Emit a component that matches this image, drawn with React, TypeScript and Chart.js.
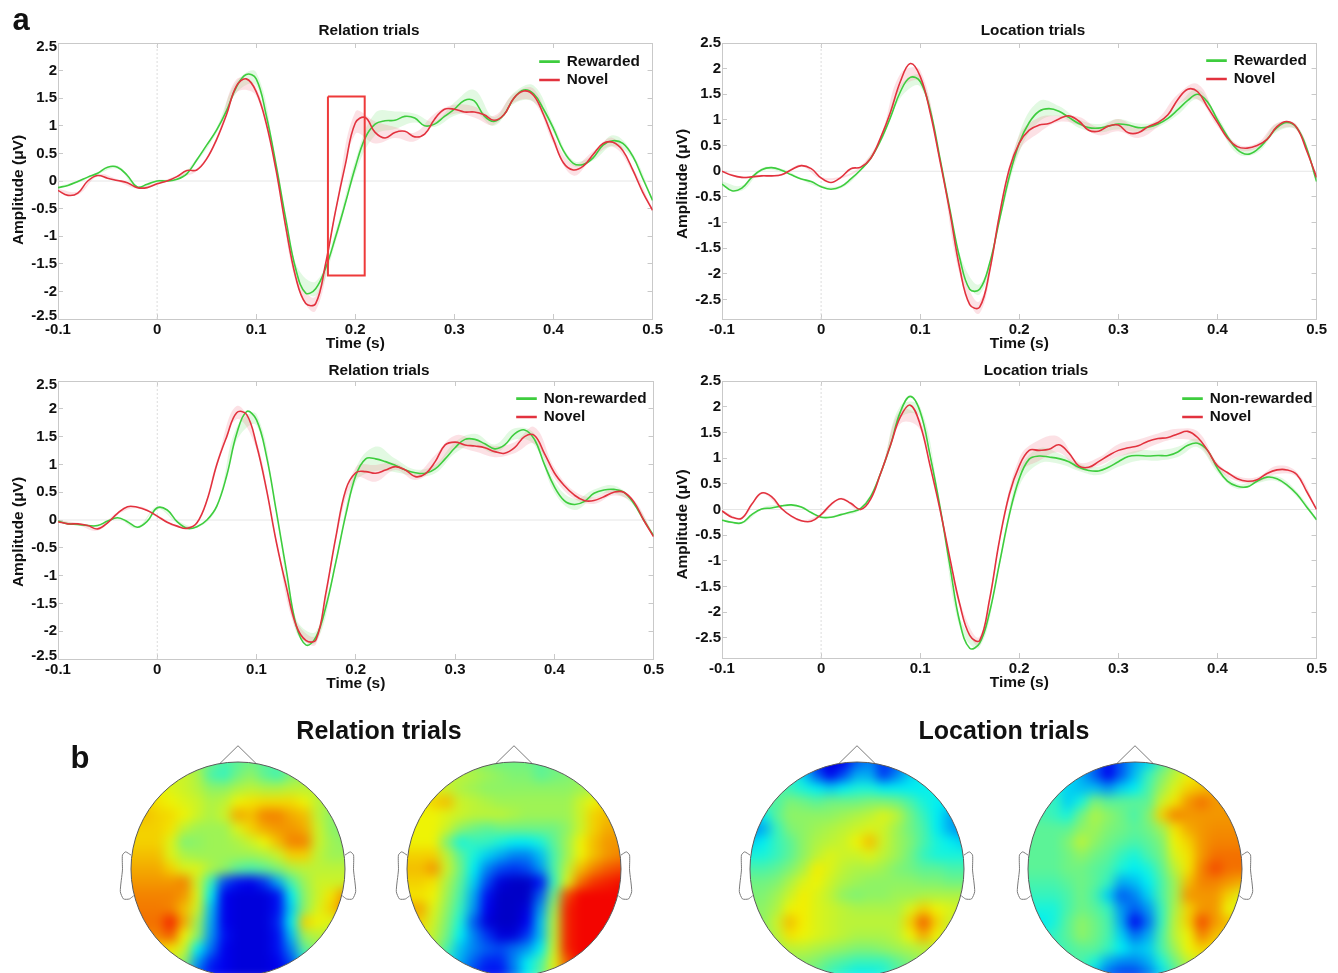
import React, { useEffect, useRef } from "react";
import { Chart, registerables } from "chart.js";

Chart.register(...registerables);

const FONT = '"Liberation Sans", Arial, sans-serif';
const GREEN = "rgb(62,205,62)";
const RED = "rgb(226,50,62)";
const GREEN_BAND = "rgba(110,225,110,0.2)";
const RED_BAND = "rgba(240,120,135,0.22)";

const timeAxis = [-0.1, -0.09, -0.08, -0.07, -0.06, -0.05, -0.04, -0.03, -0.02, -0.01, 0, 0.01, 0.02, 0.03, 0.04, 0.05, 0.06, 0.07, 0.08, 0.09, 0.1, 0.11, 0.12, 0.13, 0.14, 0.15, 0.16, 0.17, 0.18, 0.19, 0.2, 0.21, 0.22, 0.23, 0.24, 0.25, 0.26, 0.27, 0.28, 0.29, 0.3, 0.31, 0.32, 0.33, 0.34, 0.35, 0.36, 0.37, 0.38, 0.39, 0.4, 0.41, 0.42, 0.43, 0.44, 0.45, 0.46, 0.47, 0.48, 0.49, 0.5];
const xTickValues = [-0.1, 0, 0.1, 0.2, 0.3, 0.4, 0.5];
const yTickValues = [-2.5, -2, -1.5, -1, -0.5, 0, 0.5, 1, 1.5, 2, 2.5];

const relRewarded = [-0.12, -0.08, -0.01, 0.07, 0.14, 0.25, 0.25, 0.1, -0.11, -0.06, 0, 0, 0.03, 0.13, 0.38, 0.65, 0.92, 1.27, 1.7, 1.93, 1.85, 1.2, 0.3, -0.7, -1.6, -2.03, -1.95, -1.58, -1.02, -0.4, 0.25, 0.78, 1.03, 1.09, 1.1, 1.17, 1.14, 1, 1.03, 1.17, 1.3, 1.46, 1.45, 1.18, 1.08, 1.2, 1.5, 1.65, 1.58, 1.3, 0.95, 0.55, 0.32, 0.3, 0.42, 0.65, 0.73, 0.68, 0.45, 0.05, -0.35];
const relRewardedNovel = [-0.17, -0.26, -0.22, 0, 0.1, 0.05, 0.01, -0.03, -0.12, -0.12, -0.05, 0, 0.08, 0.19, 0.2, 0.4, 0.75, 1.2, 1.72, 1.85, 1.62, 1.05, 0.2, -0.85, -1.75, -2.22, -2.22, -1.5, -0.55, 0.3, 1.05, 1.15, 0.88, 0.78, 0.88, 0.9, 0.8, 0.85, 1.12, 1.3, 1.3, 1.25, 1.25, 1.2, 1.1, 1.2, 1.5, 1.63, 1.55, 1.2, 0.75, 0.33, 0.2, 0.27, 0.48, 0.68, 0.7, 0.55, 0.2, -0.2, -0.53];
const locRewarded = [-0.25, -0.38, -0.33, -0.12, 0.03, 0.07, 0.02, -0.07, -0.15, -0.2, -0.3, -0.35, -0.3, -0.15, 0.03, 0.25, 0.6, 1.05, 1.55, 1.83, 1.75, 1.2, 0.25, -0.75, -1.7, -2.3, -2.3, -1.8, -0.95, -0.1, 0.55, 0.95, 1.17, 1.22, 1.17, 1.05, 0.93, 0.85, 0.84, 0.88, 0.92, 0.9, 0.85, 0.86, 0.92, 1.03, 1.2, 1.38, 1.5, 1.35, 1, 0.68, 0.42, 0.33, 0.42, 0.62, 0.85, 0.95, 0.85, 0.45, -0.2];
const locRewardedNovel = [0, -0.08, -0.12, -0.11, -0.09, -0.09, -0.07, 0.03, 0.11, 0.05, -0.13, -0.22, -0.12, 0.05, 0.08, 0.25, 0.65, 1.15, 1.75, 2.1, 1.85, 1.15, 0.2, -0.8, -1.9, -2.6, -2.65, -1.95, -0.85, 0.05, 0.55, 0.8, 0.9, 0.93, 1.02, 1.08, 0.98, 0.8, 0.78, 0.88, 0.9, 0.75, 0.75, 0.87, 0.95, 1.1, 1.4, 1.6, 1.55, 1.25, 0.95, 0.65, 0.48, 0.45, 0.5, 0.62, 0.87, 0.97, 0.85, 0.4, -0.12];
const relNonRewarded = [-0.02, -0.07, -0.08, -0.1, -0.1, -0.02, 0.04, -0.03, -0.13, -0.02, 0.22, 0.18, -0.03, -0.15, -0.12, 0, 0.25, 0.8, 1.55, 1.95, 1.8, 1.15, 0.15, -0.9, -1.9, -2.25, -2.1, -1.55, -0.75, 0.1, 0.8, 1.1, 1.1, 1.05, 0.98, 0.9, 0.85, 0.84, 0.92, 1.1, 1.3, 1.45, 1.45, 1.37, 1.28, 1.35, 1.55, 1.62, 1.45, 1, 0.6, 0.35, 0.28, 0.33, 0.48, 0.54, 0.55, 0.5, 0.3, 0, -0.28];
const relNonRewardedNovel = [-0.03, -0.07, -0.07, -0.1, -0.16, -0.05, 0.12, 0.24, 0.23, 0.17, 0.07, -0.04, -0.11, -0.15, -0.05, 0.35, 1, 1.5, 1.93, 1.9, 1.35, 0.55, -0.4, -1.2, -1.9, -2.17, -2.15, -1.3, -0.3, 0.55, 0.85, 0.87, 0.84, 0.9, 0.96, 0.9, 0.78, 0.83, 1.05, 1.35, 1.4, 1.35, 1.33, 1.3, 1.23, 1.2, 1.3, 1.5, 1.52, 1.2, 0.85, 0.62, 0.45, 0.35, 0.35, 0.42, 0.5, 0.5, 0.33, 0, -0.3];
const locNonRewarded = [-0.21, -0.25, -0.26, -0.1, 0.01, 0.03, 0.07, 0.09, 0.05, -0.06, -0.15, -0.15, -0.1, -0.05, 0.02, 0.25, 0.7, 1.25, 1.9, 2.2, 1.9, 1.05, 0.05, -1.1, -2.2, -2.7, -2.6, -2, -1.05, -0.1, 0.6, 0.98, 1.04, 1.02, 0.99, 0.93, 0.82, 0.76, 0.75, 0.82, 0.93, 1.03, 1.05, 1.04, 1.05, 1.05, 1.12, 1.25, 1.29, 1.15, 0.8, 0.55, 0.45, 0.44, 0.55, 0.63, 0.6, 0.48, 0.3, 0.05, -0.2];
const locNonRewardedNovel = [-0.03, -0.15, -0.17, 0.1, 0.32, 0.25, 0.02, -0.13, -0.22, -0.23, -0.1, 0.1, 0.21, 0.12, 0, 0.2, 0.7, 1.25, 1.8, 2.03, 1.65, 0.85, 0, -0.95, -1.85, -2.45, -2.55, -1.75, -0.6, 0.3, 0.85, 1.15, 1.15, 1.17, 1.26, 1.1, 0.85, 0.82, 0.93, 1.05, 1.15, 1.2, 1.24, 1.33, 1.38, 1.4, 1.47, 1.52, 1.4, 1.15, 0.85, 0.72, 0.6, 0.55, 0.58, 0.7, 0.77, 0.77, 0.68, 0.35, 0];

// half-widths of the shaded bands, read every 0.02 s
const semA1 = [0.02, 0.02, 0.02, 0.03, 0.02, 0.02, 0.02, 0.03, 0.05, 0.1, 0.12, 0.03, 0.1, 0.13, 0.1, 0.12, 0.2, 0.16, 0.08, 0.05, 0.12, 0.2, 0.08, 0.1, 0.15, 0.08, 0.05, 0.05, 0.1, 0.05, 0.03];
const semA2 = [0.03, 0.03, 0.02, 0.02, 0.02, 0.02, 0.02, 0.02, 0.04, 0.12, 0.08, 0.03, 0.08, 0.13, 0.05, 0.2, 0.2, 0.1, 0.08, 0.1, 0.08, 0.1, 0.08, 0.08, 0.12, 0.08, 0.1, 0.06, 0.08, 0.05, 0.03];
const semB1 = [0.05, 0.05, 0.03, 0.03, 0.02, 0.02, 0.03, 0.03, 0.05, 0.12, 0.1, 0.03, 0.08, 0.1, 0.05, 0.18, 0.2, 0.1, 0.08, 0.08, 0.1, 0.08, 0.06, 0.1, 0.1, 0.07, 0.08, 0.06, 0.08, 0.05, 0.03];
const semB2 = [0.02, 0.02, 0.02, 0.02, 0.02, 0.02, 0.02, 0.02, 0.04, 0.15, 0.12, 0.03, 0.12, 0.12, 0.05, 0.15, 0.15, 0.06, 0.08, 0.08, 0.12, 0.1, 0.08, 0.1, 0.15, 0.08, 0.05, 0.05, 0.07, 0.05, 0.03];
const semC1 = [0.02, 0.02, 0.02, 0.02, 0.02, 0.02, 0.02, 0.02, 0.04, 0.12, 0.1, 0.03, 0.12, 0.1, 0.06, 0.12, 0.22, 0.12, 0.06, 0.08, 0.1, 0.1, 0.08, 0.1, 0.1, 0.1, 0.1, 0.07, 0.07, 0.04, 0.03];
const semC2 = [0.02, 0.02, 0.03, 0.02, 0.02, 0.02, 0.02, 0.02, 0.05, 0.12, 0.08, 0.03, 0.08, 0.08, 0.05, 0.1, 0.15, 0.06, 0.06, 0.12, 0.12, 0.1, 0.1, 0.1, 0.15, 0.1, 0.07, 0.06, 0.06, 0.04, 0.03];
const semD1 = [0.02, 0.02, 0.02, 0.02, 0.02, 0.02, 0.02, 0.02, 0.04, 0.12, 0.1, 0.03, 0.1, 0.08, 0.06, 0.15, 0.15, 0.1, 0.07, 0.08, 0.1, 0.1, 0.1, 0.1, 0.08, 0.08, 0.05, 0.04, 0.05, 0.05, 0.03];
const semD2 = [0.02, 0.02, 0.02, 0.02, 0.02, 0.02, 0.02, 0.02, 0.04, 0.13, 0.1, 0.03, 0.06, 0.08, 0.05, 0.15, 0.2, 0.15, 0.07, 0.08, 0.12, 0.12, 0.1, 0.1, 0.12, 0.06, 0.05, 0.05, 0.08, 0.05, 0.03];

const highlightX = [0.1724, 0.2095, 0.2095, 0.1724, 0.1724];
const highlightY = [1.53, 1.53, -1.71, -1.71, 1.53];

const map1 = [
  [50, 50, 50, 50, 50, 50, 46, 42, 44, 46, 44, 44, 50, 50, 50, 50, 50],
  [58, 58, 58, 58, 58, 54, 42, 40, 46, 50, 44, 41, 48, 52, 54, 54, 54],
  [62, 62, 62, 60, 58, 55, 50, 50, 54, 56, 54, 54, 56, 56, 56, 54, 54],
  [66, 66, 64, 62, 60, 58, 54, 56, 62, 64, 65, 65, 65, 62, 56, 52, 50],
  [68, 68, 66, 65, 62, 58, 54, 58, 70, 68, 74, 74, 70, 68, 56, 50, 48],
  [66, 66, 66, 64, 56, 52, 52, 52, 60, 66, 70, 72, 72, 70, 58, 50, 48],
  [66, 66, 66, 60, 48, 50, 52, 52, 54, 58, 62, 68, 74, 74, 58, 52, 50],
  [68, 68, 68, 60, 54, 52, 52, 52, 52, 52, 54, 58, 66, 66, 56, 52, 52],
  [70, 70, 70, 66, 60, 60, 54, 50, 44, 42, 44, 48, 54, 56, 56, 56, 56],
  [72, 72, 72, 72, 74, 58, 40, 20, 14, 12, 18, 30, 42, 52, 58, 58, 58],
  [74, 74, 74, 74, 72, 60, 36, 12, 10, 10, 10, 14, 36, 50, 58, 64, 72],
  [75, 75, 75, 74, 68, 58, 32, 12, 10, 10, 10, 14, 34, 50, 60, 66, 74],
  [76, 76, 76, 84, 70, 52, 30, 12, 10, 10, 10, 16, 36, 66, 62, 60, 60],
  [74, 74, 74, 78, 62, 50, 28, 14, 10, 10, 10, 14, 32, 52, 56, 54, 54],
  [66, 66, 66, 64, 58, 36, 24, 12, 10, 10, 10, 14, 26, 44, 50, 50, 50],
  [58, 58, 58, 58, 50, 28, 16, 12, 10, 10, 10, 12, 20, 36, 46, 50, 50],
  [50, 50, 50, 48, 40, 22, 14, 12, 10, 10, 10, 12, 16, 30, 44, 50, 50],
];
const map2 = [
  [52, 52, 52, 52, 52, 50, 48, 46, 46, 46, 44, 46, 46, 48, 50, 52, 52],
  [56, 56, 56, 56, 56, 54, 52, 50, 48, 48, 44, 46, 48, 50, 52, 54, 54],
  [60, 60, 60, 58, 54, 52, 50, 50, 50, 50, 50, 50, 50, 52, 54, 56, 56],
  [62, 62, 66, 68, 58, 56, 54, 52, 52, 52, 52, 52, 52, 58, 62, 66, 66],
  [62, 62, 62, 60, 58, 56, 56, 56, 54, 52, 52, 52, 52, 58, 66, 68, 68],
  [62, 62, 62, 58, 50, 46, 44, 46, 46, 46, 46, 46, 50, 58, 66, 70, 70],
  [62, 62, 62, 48, 38, 40, 40, 38, 36, 36, 38, 44, 52, 62, 68, 72, 72],
  [66, 66, 66, 56, 44, 38, 34, 30, 26, 26, 32, 42, 52, 62, 68, 72, 74],
  [68, 68, 72, 58, 46, 36, 26, 20, 18, 20, 28, 42, 56, 68, 74, 78, 80],
  [66, 66, 64, 54, 44, 34, 20, 10, 8, 8, 14, 40, 60, 76, 82, 84, 86],
  [64, 64, 62, 52, 42, 30, 14, 8, 8, 8, 22, 46, 80, 87, 87, 87, 87],
  [70, 70, 60, 50, 40, 28, 12, 8, 8, 10, 28, 52, 84, 87, 87, 87, 87],
  [68, 66, 58, 48, 38, 22, 10, 8, 8, 12, 32, 55, 84, 87, 87, 87, 87],
  [62, 62, 56, 46, 36, 26, 18, 10, 10, 18, 32, 56, 84, 87, 87, 87, 87],
  [58, 58, 54, 42, 32, 26, 22, 20, 24, 28, 36, 58, 84, 87, 87, 87, 87],
  [54, 54, 50, 38, 30, 22, 16, 16, 26, 36, 42, 60, 78, 87, 87, 87, 87],
  [50, 50, 46, 34, 26, 18, 14, 14, 24, 36, 44, 60, 76, 87, 87, 87, 87],
];
const map3 = [
  [40, 40, 40, 38, 30, 16, 10, 12, 22, 26, 18, 22, 30, 36, 40, 40, 40],
  [42, 42, 42, 40, 34, 22, 12, 20, 30, 30, 18, 26, 34, 38, 40, 42, 42],
  [44, 44, 44, 40, 38, 36, 34, 36, 38, 38, 36, 36, 36, 36, 38, 40, 42],
  [46, 46, 42, 48, 46, 44, 46, 46, 46, 48, 48, 46, 42, 38, 36, 36, 36],
  [34, 36, 44, 50, 50, 50, 50, 52, 54, 56, 60, 56, 46, 40, 36, 30, 26],
  [26, 30, 40, 48, 50, 52, 54, 56, 58, 60, 58, 52, 46, 42, 36, 30, 26],
  [34, 36, 40, 44, 50, 54, 56, 58, 62, 68, 58, 52, 48, 42, 38, 36, 34],
  [38, 38, 40, 44, 50, 56, 60, 58, 58, 60, 56, 52, 46, 40, 38, 38, 38],
  [42, 42, 44, 48, 54, 63, 60, 56, 54, 54, 52, 48, 46, 44, 44, 42, 42],
  [46, 46, 48, 54, 60, 62, 58, 54, 52, 50, 50, 50, 50, 48, 48, 46, 46],
  [48, 48, 52, 58, 63, 60, 56, 50, 48, 50, 50, 52, 52, 54, 54, 54, 54],
  [50, 50, 54, 62, 63, 60, 58, 56, 54, 54, 54, 54, 60, 66, 62, 60, 58],
  [50, 50, 58, 68, 63, 60, 58, 56, 56, 56, 56, 56, 66, 78, 66, 58, 56],
  [50, 50, 56, 64, 62, 60, 58, 56, 54, 54, 54, 56, 62, 70, 62, 56, 54],
  [50, 50, 52, 56, 56, 54, 52, 50, 48, 48, 50, 52, 54, 56, 56, 54, 52],
  [50, 50, 50, 50, 50, 48, 44, 42, 40, 40, 40, 44, 48, 52, 52, 50, 50],
  [50, 50, 50, 50, 48, 44, 40, 38, 36, 36, 38, 42, 46, 50, 50, 50, 50],
];
const map4 = [
  [36, 36, 36, 34, 30, 24, 14, 22, 30, 34, 42, 50, 58, 62, 62, 62, 62],
  [38, 38, 38, 36, 30, 22, 12, 22, 32, 40, 48, 56, 62, 64, 66, 66, 66],
  [40, 40, 38, 34, 32, 32, 28, 34, 36, 42, 52, 60, 66, 68, 70, 70, 70],
  [40, 40, 40, 34, 38, 48, 44, 44, 44, 44, 58, 64, 72, 76, 72, 72, 72],
  [42, 42, 40, 38, 46, 54, 50, 46, 42, 48, 66, 74, 72, 72, 72, 72, 72],
  [44, 44, 44, 44, 50, 52, 48, 46, 44, 46, 52, 64, 70, 72, 73, 73, 73],
  [44, 44, 44, 48, 56, 50, 46, 44, 42, 44, 48, 62, 66, 72, 74, 74, 74],
  [44, 44, 44, 46, 50, 46, 44, 40, 38, 42, 46, 60, 64, 72, 76, 76, 76],
  [44, 44, 44, 46, 46, 44, 42, 38, 36, 38, 44, 56, 64, 74, 80, 76, 76],
  [42, 42, 42, 44, 46, 44, 40, 30, 32, 36, 42, 52, 68, 74, 74, 72, 70],
  [40, 40, 40, 42, 46, 42, 34, 22, 26, 34, 42, 52, 72, 72, 72, 66, 60],
  [38, 38, 38, 42, 46, 44, 40, 28, 22, 28, 40, 54, 66, 72, 72, 62, 60],
  [36, 36, 38, 44, 50, 46, 42, 30, 12, 24, 40, 56, 66, 80, 72, 68, 66],
  [38, 38, 40, 44, 50, 46, 42, 34, 24, 30, 42, 56, 62, 74, 68, 66, 64],
  [40, 40, 40, 42, 44, 44, 40, 36, 32, 34, 42, 52, 62, 66, 64, 62, 62],
  [42, 42, 42, 42, 42, 38, 30, 26, 26, 30, 38, 46, 56, 60, 60, 60, 60],
  [44, 44, 44, 44, 40, 32, 22, 18, 18, 24, 34, 42, 50, 54, 56, 56, 56],
];

const noseX = [-0.17, 0, 0.17];
const noseY = [0.985, 1.152, 0.985];
const earX = [-1.0, -1.05, -1.08, -1.08, -1.1, -1.07, -1.015, -0.975];
const earY = [0.13, 0.16, 0.13, -0.01, -0.21, -0.28, -0.28, -0.25];

type PanelSpec = {
  title: string; first: string; second: string;
  a: number[]; b: number[]; semA: number[]; semB: number[];
  left: number; top: number; w: number; h: number; yMin: number;
  titleX: number; titleY: number; legendX: number; legendY: number;
  yTitleShift: number; insetEnds: boolean; highlight?: boolean;
};

const panels: PanelSpec[] = [
  { title: "Relation trials", first: "Rewarded", second: "Novel", a: relRewarded, b: relRewardedNovel, semA: semA1, semB: semA2, left: 58, top: 43, w: 596, h: 276, yMin: -2.5, titleX: 369, titleY: 31, legendX: 541, legendY: 61, yTitleShift: 9, insetEnds: true, highlight: true },
  { title: "Location trials", first: "Rewarded", second: "Novel", a: locRewarded, b: locRewardedNovel, semA: semB1, semB: semB2, left: 722, top: 43, w: 596, h: 276, yMin: -2.88, titleX: 1033, titleY: 31, legendX: 1208, legendY: 60, yTitleShift: 3, insetEnds: false },
  { title: "Relation trials", first: "Non-rewarded", second: "Novel", a: relNonRewarded, b: relNonRewardedNovel, semA: semC1, semB: semC2, left: 58, top: 381, w: 597, h: 278, yMin: -2.5, titleX: 379, titleY: 371, legendX: 518, legendY: 398, yTitleShift: 12, insetEnds: true },
  { title: "Location trials", first: "Non-rewarded", second: "Novel", a: locNonRewarded, b: locNonRewardedNovel, semA: semD1, semB: semD2, left: 722, top: 381, w: 596, h: 277, yMin: -2.89, titleX: 1036, titleY: 371, legendX: 1184, legendY: 398, yTitleShift: 5, insetEnds: false },
];

const AXIS = "#c9c9c9";
const TICK_FONT = { family: FONT, size: 15, weight: "bold" as const };
const LABEL_FONT = { family: FONT, size: 15.5, weight: "bold" as const };
const TEXT_FONT = { family: FONT, size: 15.3, weight: "bold" as const };
const LEFT_M = 58, TOP_M = 43, RIGHT_M = 16, BOTTOM_M = 34;

function pts(xs: number[], ys: number[]) {
  return xs.map((x, i) => ({ x, y: ys[i] }));
}
function band(series: number[], sem: number[], sign: number) {
  return sem.map((s, i) => ({ x: timeAxis[i * 2], y: series[i * 2] + sign * s }));
}

function Panel({ p }: { p: PanelSpec }) {
  const ref = useRef<HTMLCanvasElement>(null);
  useEffect(() => {
    const tickLabel = (v: any) => String(Number(Number(v).toFixed(2)));
    const axisBase = { grid: { color: AXIS, drawOnChartArea: false, tickLength: -5, lineWidth: 1 }, border: { color: AXIS, width: 1 } };
    const setX = (s: any) => { s.ticks = xTickValues.map((value) => ({ value })); };
    const setY = (s: any) => { s.ticks = yTickValues.map((value) => ({ value })); };
    const line = (label: string, data: number[], color: string, order: number) => ({
      label, data: pts(timeAxis, data), borderColor: color, backgroundColor: color, borderWidth: 1.6,
      pointRadius: 0, tension: 0.4, fill: false, order,
    });
    const bandSet = (data: any[], color: string, fill: any, order: number) => ({
      label: "", data, borderWidth: 0, borderColor: "transparent", backgroundColor: color, pointRadius: 0, tension: 0.4, fill, order,
    });
    const datasets: any[] = [
      line(p.first, p.a, GREEN, 2),
      line(p.second, p.b, RED, 1),
      bandSet(band(p.a, p.semA, 1), GREEN_BAND, false, 5),
      bandSet(band(p.a, p.semA, -1), GREEN_BAND, "-1", 5),
      bandSet(band(p.b, p.semB, 1), RED_BAND, false, 4),
      bandSet(band(p.b, p.semB, -1), RED_BAND, "-1", 4),
      { label: "", data: pts([-0.1, 0.5], [0, 0]), borderColor: "#e6e6e6", borderWidth: 1, pointRadius: 0, order: 6 },
      { label: "", data: pts([0, 0], [p.yMin, 2.5]), borderColor: "#dcdcdc", borderWidth: 1, borderDash: [2, 2], pointRadius: 0, order: 6 },
    ];
    if (p.highlight) {
      datasets.push({ label: "", data: pts(highlightX, highlightY), borderColor: "#ee3a3a", borderWidth: 2, pointRadius: 0, tension: 0, order: 0 });
    }
    const cTop = p.top - TOP_M, cLeft = p.left - LEFT_M;
    const titleHeight = 15.3 * 1.2;
    const titlePad = p.titleY - cTop - titleHeight / 2;
    const placing = {
      id: "placing",
      afterLayout(chart: any) {
        const lg = chart.legend;
        if (lg) { lg.left = p.legendX - cLeft - 4; lg.top = p.legendY - cTop - 7 - 3; }
        const tb = chart.titleBlock;
        if (tb) {
          const dx = p.titleX - cLeft - (tb.left + tb.right) / 2;
          tb.left += dx; tb.right += dx;
        }
        const y = chart.scales.y;
        if (!y._shifted) {
          y._shifted = true;
          const orig = y.drawTitle;
          y.drawTitle = function () {
            const c = this.ctx;
            c.save(); c.translate(0, p.yTitleShift); orig.call(this); c.restore();
          };
        }
      },
      beforeDraw(chart: any) {
        if (!p.insetEnds) return;
        chart.scales.y.getLabelItems().forEach((item: any) => {
          if (item.label === "2.5") item.options.translation[1] += 4;
          if (item.label === "-2.5") item.options.translation[1] -= 3.5;
        });
      },
    };
    const chart = new Chart(ref.current as HTMLCanvasElement, {
      type: "line",
      data: { datasets },
      options: {
        animation: false, responsive: false, devicePixelRatio: 1,
        layout: { padding: 0 },
        plugins: {
          tooltip: { enabled: false },
          title: { display: true, text: p.title, color: "#111", font: TEXT_FONT, padding: { top: titlePad, bottom: 0 } },
          legend: {
            display: true, position: "chartArea", align: "start",
            labels: {
              boxWidth: 19, boxHeight: 1, padding: 3, color: "#111",
              font: TEXT_FONT,
              filter: (item: any) => !!item.text,
              sort: (a: any, b: any) => a.datasetIndex - b.datasetIndex,
            },
          },
        },
        scales: {
          x: {
            type: "linear", position: "bottom", min: -0.1, max: 0.5, ...axisBase,
            afterBuildTicks: setX, afterFit: (s: any) => { s.height = BOTTOM_M; },
            ticks: { autoSkip: false, maxRotation: 0, padding: 7, color: "#111", font: TICK_FONT, callback: tickLabel },
            title: { display: true, text: "Time (s)", color: "#111", font: LABEL_FONT, padding: 0 },
          },
          xTop: {
            type: "linear", position: "top", min: -0.1, max: 0.5, ...axisBase,
            afterBuildTicks: setX, afterFit: (s: any) => { s.height = TOP_M - titlePad - titleHeight; },
            ticks: { display: false },
          },
          y: {
            type: "linear", position: "left", min: p.yMin, max: 2.5, ...axisBase,
            afterBuildTicks: setY, afterFit: (s: any) => { s.width = LEFT_M; },
            ticks: { autoSkip: false, padding: 6, color: "#111", font: TICK_FONT, callback: tickLabel },
            title: { display: true, text: "Amplitude (μV)", color: "#111", font: LABEL_FONT, padding: { top: 9, bottom: 0 } },
          },
          yRight: {
            type: "linear", position: "right", min: p.yMin, max: 2.5, ...axisBase,
            afterBuildTicks: setY, afterFit: (s: any) => { s.width = RIGHT_M; },
            ticks: { display: false },
          },
        },
      } as any,
      plugins: [placing],
    } as any);
    return () => chart.destroy();
  }, [p]);
  return (
    <canvas
      ref={ref}
      width={LEFT_M + p.w + RIGHT_M}
      height={TOP_M + p.h + BOTTOM_M}
      style={{ position: "absolute", left: p.left - LEFT_M, top: p.top - TOP_M }}
    />
  );
}

const HEAD_R = 107, HEAD_CY = 869, HEAD_TOP = 740, HEAD_W = 260, HEAD_H = 240;

function jet(v: number) {
  const lift = v < 34 ? 0 : v < 40 ? (v - 34) / 2 : v < 46 ? 3 : v < 60 ? (3 * (60 - v)) / 14 : 0;
  const t = (v + lift) / 100;
  const c = (x: number) => Math.round(243 * Math.max(0, Math.min(1, x)));
  const r = c(Math.min(4 * t - 1.5, -4 * t + 4.5));
  const g = c(Math.min(4 * t - 0.5, -4 * t + 3.5));
  const b = c(Math.min(4 * t + 0.5, -4 * t + 2.5));
  return `rgb(${r},${g},${b})`;
}

function Head({ grid, cx }: { grid: number[][]; cx: number }) {
  const ref = useRef<HTMLCanvasElement>(null);
  useEffect(() => {
    const cells: { x: number; y: number }[] = [];
    const colors: string[] = [];
    const n = grid.length;
    for (let r = -3; r < n + 3; r++) {
      for (let c = -3; c < n + 3; c++) {
        const rr = Math.max(0, Math.min(n - 1, r));
        const cc = Math.max(0, Math.min(n - 1, c));
        cells.push({ x: -1 + c * 0.125, y: 1 - r * 0.125 });
        colors.push(jet(grid[rr][cc]));
      }
    }
    const smoothing = {
      id: "smoothing",
      afterDatasetDraw(chart: any, args: any) {
        if (args.index !== 0) return;
        const cv = chart.canvas as HTMLCanvasElement;
        const off = document.createElement("canvas");
        off.width = cv.width; off.height = cv.height;
        const oc = off.getContext("2d") as CanvasRenderingContext2D;
        oc.filter = "blur(5.5px)";
        oc.drawImage(cv, 0, 0);
        const ctx = chart.ctx;
        ctx.save();
        ctx.clearRect(0, 0, cv.width, cv.height);
        ctx.beginPath();
        ctx.arc(chart.scales.x.getPixelForValue(0), chart.scales.y.getPixelForValue(0), HEAD_R, 0, Math.PI * 2);
        ctx.clip();
        ctx.drawImage(off, 0, 0);
        ctx.restore();
      },
    };
    const outline = (xs: number[], ys: number[], tension: number) => ({
      data: pts(xs, ys), showLine: true, borderColor: "#7a7a7a", borderWidth: 1, pointRadius: 0, tension, order: 1, clip: false,
    });
    const chart = new Chart(ref.current as HTMLCanvasElement, {
      type: "scatter",
      data: {
        datasets: [
          { data: cells, pointStyle: "rect", pointRadius: 10, pointBorderWidth: 0, pointBackgroundColor: colors, order: 3, clip: false },
          { data: [{ x: 0, y: 0 }], pointStyle: "circle", pointRadius: HEAD_R, pointBorderWidth: 1, pointBorderColor: "#5a5a5a", pointBackgroundColor: "rgba(0,0,0,0)", order: 0, clip: false },
          outline(noseX, noseY, 0),
          outline(earX, earY, 0.2),
          outline(earX.map((x) => -x), earY, 0.2),
        ],
      } as any,
      options: {
        animation: false, responsive: false, devicePixelRatio: 1,
        layout: { padding: 0, autoPadding: false },
        plugins: { legend: { display: false }, title: { display: false }, tooltip: { enabled: false } },
        scales: {
          x: { type: "linear", display: false, min: -HEAD_W / 2 / HEAD_R, max: HEAD_W / 2 / HEAD_R },
          y: { type: "linear", display: false, max: (HEAD_CY - HEAD_TOP) / HEAD_R, min: -(HEAD_TOP + HEAD_H - HEAD_CY) / HEAD_R },
        },
      } as any,
      plugins: [smoothing],
    } as any);
    return () => chart.destroy();
  }, [grid]);
  return (
    <canvas
      ref={ref}
      width={HEAD_W}
      height={HEAD_H}
      style={{ position: "absolute", left: cx - HEAD_W / 2, top: HEAD_TOP }}
    />
  );
}

function Label({ text, x, y, size }: { text: string; x: number; y: number; size: number }) {
  return (
    <div
      style={{
        position: "absolute", left: x, top: y, transform: "translate(-50%,-50%)", whiteSpace: "nowrap",
        font: `bold ${size}px ${FONT}`, color: "#111",
      }}
    >
      {text}
    </div>
  );
}

export default function App() {
  return (
    <div style={{ position: "fixed", left: 0, top: 0, width: 1338, height: 973, overflow: "hidden", background: "#fff" }}>
      <div style={{ position: "absolute", inset: 0, filter: "blur(0.4px)" }}>
        {panels.map((p, i) => <Panel key={i} p={p} />)}
        <Head grid={map1} cx={238} />
        <Head grid={map2} cx={514} />
        <Head grid={map3} cx={857} />
        <Head grid={map4} cx={1135} />
        <Label text="a" x={21} y={20} size={31} />
        <Label text="b" x={80} y={758} size={31} />
        <Label text="Relation trials" x={379} y={730} size={25} />
        <Label text="Location trials" x={1004} y={730} size={25} />
      </div>
    </div>
  );
}
